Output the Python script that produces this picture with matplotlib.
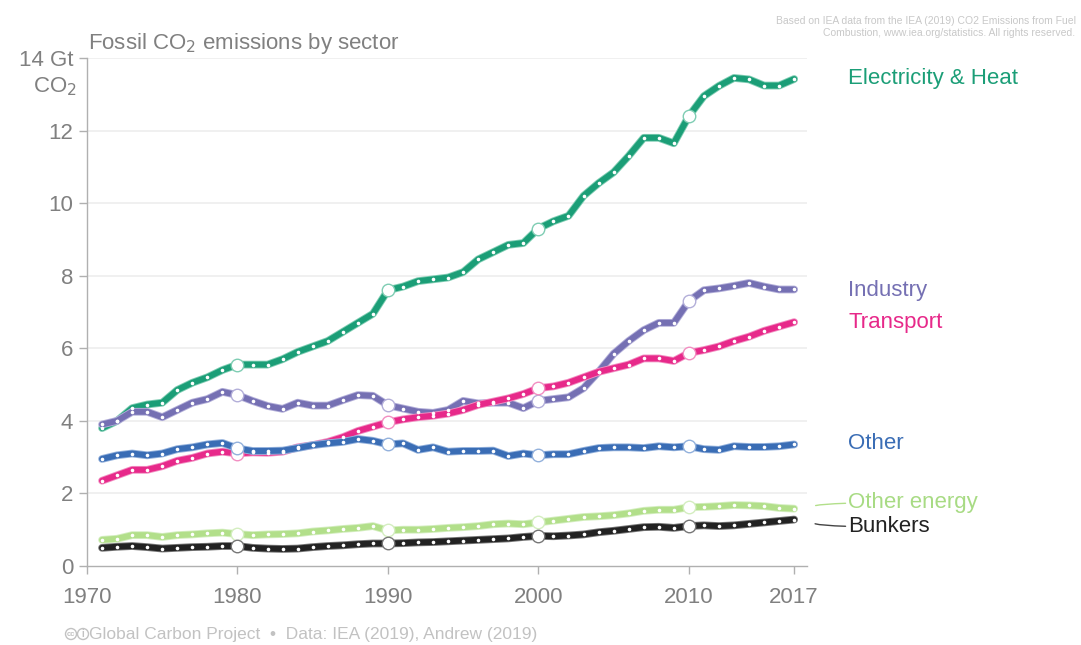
import numpy as np
import matplotlib
matplotlib.use("Agg")
import matplotlib.pyplot as plt
import matplotlib.patheffects as pe
from matplotlib.patches import Ellipse

plt.rcParams['font.family'] = ['Liberation Sans', 'DejaVu Sans']

years = np.arange(1971, 2018)

# Gt CO2 per sector
electricity_heat = [3.80, 4.00, 4.35, 4.45, 4.50, 4.85, 5.05, 5.20, 5.40, 5.55,
                    5.55, 5.55, 5.70, 5.90, 6.05, 6.20, 6.45, 6.70, 6.95, 7.60,
                    7.70, 7.85, 7.90, 7.95, 8.10, 8.45, 8.65, 8.85, 8.90, 9.30,
                    9.50, 9.65, 10.20, 10.55, 10.85, 11.30, 11.80, 11.80, 11.65, 12.40,
                    12.95, 13.23, 13.45, 13.41, 13.24, 13.24, 13.42]
industry = [3.90, 4.00, 4.25, 4.25, 4.10, 4.30, 4.50, 4.60, 4.80, 4.71,
            4.55, 4.41, 4.33, 4.50, 4.42, 4.42, 4.57, 4.71, 4.69, 4.43,
            4.34, 4.25, 4.22, 4.30, 4.55, 4.48, 4.50, 4.50, 4.35, 4.55,
            4.60, 4.65, 4.90, 5.35, 5.85, 6.20, 6.50, 6.70, 6.70, 7.30,
            7.60, 7.65, 7.72, 7.80, 7.70, 7.62, 7.62]
transport = [2.35, 2.50, 2.65, 2.65, 2.75, 2.90, 2.98, 3.10, 3.15, 3.10,
             3.13, 3.12, 3.15, 3.27, 3.33, 3.42, 3.55, 3.72, 3.84, 3.96,
             4.04, 4.10, 4.14, 4.20, 4.30, 4.44, 4.53, 4.62, 4.74, 4.90,
             4.95, 5.05, 5.20, 5.35, 5.45, 5.55, 5.72, 5.72, 5.65, 5.87,
             5.95, 6.05, 6.20, 6.32, 6.48, 6.60, 6.72]
other = [2.95, 3.05, 3.10, 3.05, 3.10, 3.22, 3.27, 3.35, 3.39, 3.24,
         3.17, 3.17, 3.18, 3.25, 3.33, 3.38, 3.42, 3.50, 3.45, 3.35,
         3.38, 3.20, 3.27, 3.15, 3.17, 3.17, 3.18, 3.03, 3.10, 3.05,
         3.08, 3.08, 3.17, 3.25, 3.27, 3.27, 3.25, 3.30, 3.27, 3.30,
         3.22, 3.20, 3.30, 3.28, 3.28, 3.30, 3.35]
other_energy = [0.72, 0.75, 0.85, 0.85, 0.80, 0.85, 0.87, 0.90, 0.92, 0.88,
                0.85, 0.87, 0.88, 0.90, 0.95, 0.98, 1.02, 1.05, 1.10, 0.98,
                1.00, 1.00, 1.02, 1.05, 1.07, 1.10, 1.15, 1.17, 1.15, 1.20,
                1.25, 1.30, 1.35, 1.37, 1.40, 1.45, 1.52, 1.55, 1.55, 1.62,
                1.63, 1.65, 1.68, 1.67, 1.65, 1.60, 1.58]
bunkers = [0.50, 0.53, 0.55, 0.52, 0.48, 0.50, 0.52, 0.53, 0.55, 0.55,
           0.50, 0.48, 0.47, 0.48, 0.52, 0.55, 0.57, 0.60, 0.62, 0.62,
           0.63, 0.65, 0.66, 0.68, 0.70, 0.72, 0.74, 0.76, 0.80, 0.83,
           0.82, 0.84, 0.87, 0.93, 0.97, 1.02, 1.07, 1.08, 1.05, 1.10,
           1.12, 1.10, 1.12, 1.16, 1.20, 1.24, 1.28]

series = [
    ("Electricity & Heat", electricity_heat, "#1b9e77", "#7fcdb3"),
    ("Industry", industry, "#7570b3", "#b3afd9"),
    ("Transport", transport, "#e7298a", "#f28fc2"),
    ("Other", other, "#3a6db5", "#93b1dc"),
    ("Other energy", other_energy, "#b2df8a", "#d4eec0"),
    ("Bunkers", bunkers, "#222222", "#777777"),
]
label_y = {"Electricity & Heat": 13.43, "Industry": 7.58, "Transport": 6.7,
           "Other": 3.38, "Other energy": 1.75, "Bunkers": 1.08}
decades = [1980, 1990, 2000, 2010]
gray = "#808080"

fig = plt.figure(figsize=(10.81, 6.45), dpi=100)
ax = fig.add_axes([0.0805, 0.1225, 0.666, 0.7876])

for name, vals, col, light in series:
    vals = np.array(vals)
    ax.plot(years, vals, color=col, lw=4.3, solid_capstyle='round', zorder=3,
            path_effects=[pe.Stroke(linewidth=5.6, foreground=light), pe.Normal()])
    ax.plot(years, vals, ls='none', marker='o', ms=2.6, mfc='white', mec='none', zorder=4)
    idx = [list(years).index(d) for d in decades]
    ax.plot(years[idx], vals[idx], ls='none', marker='o', ms=9, mfc='white',
            mec=light, mew=1.0, zorder=5)
    if name in ("Other energy", "Bunkers"):
        ty = label_y[name]
        ax.annotate(name, xy=(2018.3, vals[-1] + (0.03 if name == "Other energy" else -0.05)),
                    xytext=(2020.6, ty), textcoords='data', va='center', ha='left',
                    color=col if name != "Other energy" else "#a8db84", fontsize=16,
                    annotation_clip=False,
                    arrowprops=dict(arrowstyle='-', color=col if name != "Bunkers" else "#444444",
                                    lw=1.0, shrinkA=0, shrinkB=2,
                                    connectionstyle="angle3,angleA=0,angleB=-30" if name == "Other energy"
                                    else "angle3,angleA=0,angleB=30"))
    else:
        ax.text(2020.6, label_y[name], name, color=col, fontsize=16, va='center', ha='left')

ax.set_xlim(1970, 2017.85)
ax.set_ylim(0, 14)
ax.set_xticks([1970, 1980, 1990, 2000, 2010, 2017])
ax.set_yticks(range(0, 15, 2))
ax.set_yticklabels(["0", "2", "4", "6", "8", "10", "12", "14 Gt"])
for y in range(2, 15, 2):
    ax.axhline(y, color="#eeeeee", lw=1.2, zorder=1)
for s in ("top", "right"):
    ax.spines[s].set_visible(False)
for s in ("left", "bottom"):
    ax.spines[s].set_color("#b0b0b0")
    ax.spines[s].set_linewidth(1.0)
ax.tick_params(colors="#b0b0b0", labelcolor=gray, labelsize=16, length=6, width=1.0)
ax.tick_params(axis='x', pad=9)
ax.tick_params(axis='y', pad=4)

fig.text(0.0715, 0.865, "CO$_2$", color=gray, fontsize=16, ha='right', va='center')
fig.text(0.081, 0.932, "Fossil CO$_2$ emissions by sector", color=gray, fontsize=16,
         ha='left', va='center')
fig.text(0.995, 0.975, "Based on IEA data from the IEA (2019) CO2 Emissions from Fuel\n"
         "Combustion, www.iea.org/statistics. All rights reserved.",
         color="#c8c8c8", fontsize=7.5, ha='right', va='top', linespacing=1.2)

# creative commons badges in the footer, drawn as small circles
foot = "#c2c2c2"
W, H = 1081, 645
fy = 1 - 634 / H
for cx, txt in ((71, "cc"), (83, "i")):
    fig.add_artist(Ellipse((cx / W, fy), 11 / W, 11 / H, transform=fig.transFigure,
                           fill=False, ec=foot, lw=1.0))
    fig.text(cx / W, fy, txt, color=foot, fontsize=5.5 if txt == "cc" else 7,
             ha='center', va='center', fontweight='bold')
fig.text(0.0825, fy, "Global Carbon Project  \u2022  Data: IEA (2019), Andrew (2019)",
         color=foot, fontsize=12.5, ha='left', va='center')

fig.savefig("out.png", dpi=100)
